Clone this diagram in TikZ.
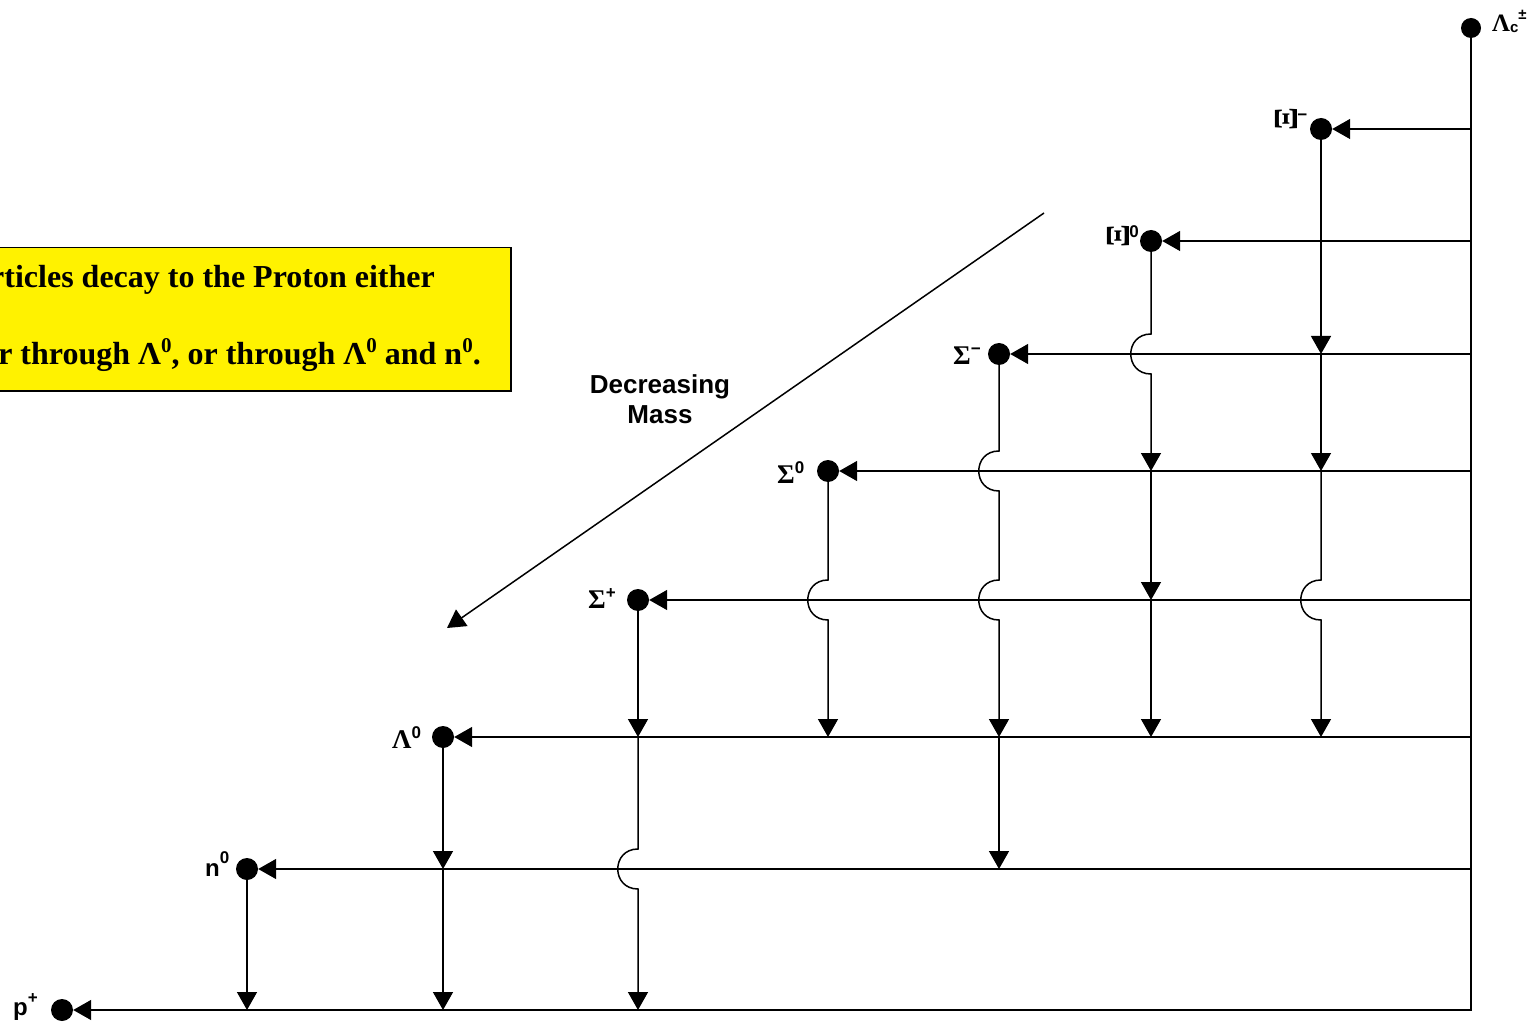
\documentclass[tikz,border=0pt]{standalone}
\usepackage{fontspec}
\setmainfont{Liberation Serif}
\newfontfamily\sansf{Liberation Sans}
\usetikzlibrary{arrows.meta,calc}
\newcommand\lsup[2][15pt]{\raisebox{#1}{\sansf\bfseries\fontsize{17}{17}\selectfont #2}}
\newcommand\gk[1]{{\rmfamily\bfseries\fontsize{27}{27}\selectfont #1}}
\newcommand\gkr[1]{\rotatebox{90}{\scalebox{1.25}{\gk{#1}}}}
\newcommand\bsup[1]{\raisebox{12pt}{\fontsize{21}{21}\selectfont #1}}
\tikzset{
  ln/.style={line width=1.5pt},
  arr/.style={line width=1.5pt,-{Triangle[length=18pt,width=20pt]}},
  dot/.style={circle,fill=black,inner sep=0pt,minimum size=22pt},
  lab/.style={anchor=base west,inner sep=0pt},
}
\begin{document}
\begin{tikzpicture}[x=1pt,y=-1pt]
\useasboundingbox (0,0) rectangle (1540,1024);
\fill[white] (0,0) rectangle (1540,1024);
% text box
\begin{scope}
\clip (0,0) rectangle (1540,1024);
\node (box) [draw,fill=yellow,line width=1.5pt,anchor=north west,minimum width=525,minimum height=143,inner sep=0pt] at (-15,247) {};
\node (t1) [anchor=base east,inner sep=0pt,font=\bfseries\fontsize{32}{32}\selectfont] at (435,288) {rticles decay to the Proton either};
\node (t2) [anchor=base east,inner sep=0pt,font=\bfseries\fontsize{32}{32}\selectfont] at (481,364) {r through Λ\bsup{0}, or through Λ\bsup{0} and n\bsup{0}.};
\end{scope}
% particles
\node[dot,minimum size=20pt] (lc) at (1471,28) {};
\node[dot] (xim) at (1321,129) {};
\node[dot] (xi0) at (1151,241) {};
\node[dot] (sigm) at (999,354) {};
\node[dot] (sig0) at (828,471) {};
\node[dot] (sigp) at (638,600) {};
\node[dot] (lam) at (443,737) {};
\node[dot] (n0) at (247,869) {};
\node[dot] (p) at (62,1010) {};
% labels
\node[lab] (llc) at (1492,32) {{\bfseries\fontsize{25}{25}\selectfont Λ}\raisebox{-1pt}{\sansf\bfseries\fontsize{15}{15}\selectfont c}\raisebox{12pt}{\sansf\bfseries\fontsize{15}{15}\selectfont ±}};
\node[lab] (lxim) at (1275,131) {\gkr{Ξ}\lsup[10pt]{−}};
\node[lab] (lxi0) at (1107,248) {\gkr{Ξ}\lsup[10pt]{0}};
\node[lab] (lsigm) at (953,365) {\gk{Σ}\lsup[10pt]{−}};
\node[lab] (lsig0) at (777,483) {\gk{Σ}\lsup[10pt]{0}};
\node[lab] (lsigp) at (588,608) {\gk{Σ}\lsup[10pt]{+}};
\node[lab] (llam) at (392,748) {\gk{Λ}\lsup[10pt]{0}};
\node[lab] (ln0) at (205,876) {{\sansf\bfseries\fontsize{24}{24}\selectfont n}\lsup[13pt]{0}};
\node[lab] (lp) at (13,1015) {{\sansf\bfseries\fontsize{24}{24}\selectfont p}\lsup[12pt]{+}};
% trunk and horizontals
\draw[arr] (lc) |- (p);
\draw[arr] (lc |- xim) -- (xim);
\draw[arr] (lc |- xi0) -- (xi0);
\draw[arr] (lc |- sigm) -- (sigm);
\draw[arr] (lc |- sig0) -- (sig0);
\draw[arr] (lc |- sigp) -- (sigp);
\draw[arr] (lc |- lam) -- (lam);
\draw[arr] (lc |- n0) -- (n0);
% Xi-
\draw[arr] (xim) -- (xim |- sigm);
\draw[arr] (xim |- sigm) -- (xim |- sig0);
\draw[arr] (xim |- sig0) -- ($(xim |- sigp)+(0,-20)$) .. controls +(-27,0) and +(-27,0) .. ($(xim |- sigp)+(0,20)$) -- (xim |- lam);
% Xi0
\draw[arr] (xi0) -- ($(xi0 |- sigm)+(0,-20)$) .. controls +(-27,0) and +(-27,0) .. ($(xi0 |- sigm)+(0,20)$) -- (xi0 |- sig0);
\draw[arr] (xi0 |- sig0) -- (xi0 |- sigp);
\draw[arr] (xi0 |- sigp) -- (xi0 |- lam);
% Sigma-
\draw[arr] (sigm) -- ($(sigm |- sig0)+(0,-20)$) .. controls +(-27,0) and +(-27,0) .. ($(sigm |- sig0)+(0,20)$) -- ($(sigm |- sigp)+(0,-20)$) .. controls +(-27,0) and +(-27,0) .. ($(sigm |- sigp)+(0,20)$) -- (sigm |- lam);
\draw[arr] (sigm |- lam) -- (sigm |- n0);
% Sigma0
\draw[arr] (sig0) -- ($(sig0 |- sigp)+(0,-20)$) .. controls +(-27,0) and +(-27,0) .. ($(sig0 |- sigp)+(0,20)$) -- (sig0 |- lam);
% Sigma+
\draw[arr] (sigp) -- (sigp |- lam);
\draw[arr] (sigp |- lam) -- ($(sigp |- n0)+(0,-20)$) .. controls +(-27,0) and +(-27,0) .. ($(sigp |- n0)+(0,20)$) -- (sigp |- p);
% Lambda0
\draw[arr] (lam) -- (lam |- n0);
\draw[arr] (lam |- n0) -- (lam |- p);
% n0
\draw[arr] (n0) -- (n0 |- p);
% decreasing mass
\coordinate (dm1) at (1044,213);
\coordinate (dm2) at (447,628);
\draw[arr] (dm1) -- (dm2);
\node (dm) [align=center,inner sep=0pt,font=\sansf\bfseries\fontsize{26}{30}\selectfont] at (660,399) {Decreasing\\Mass};
\end{tikzpicture}
\end{document}
